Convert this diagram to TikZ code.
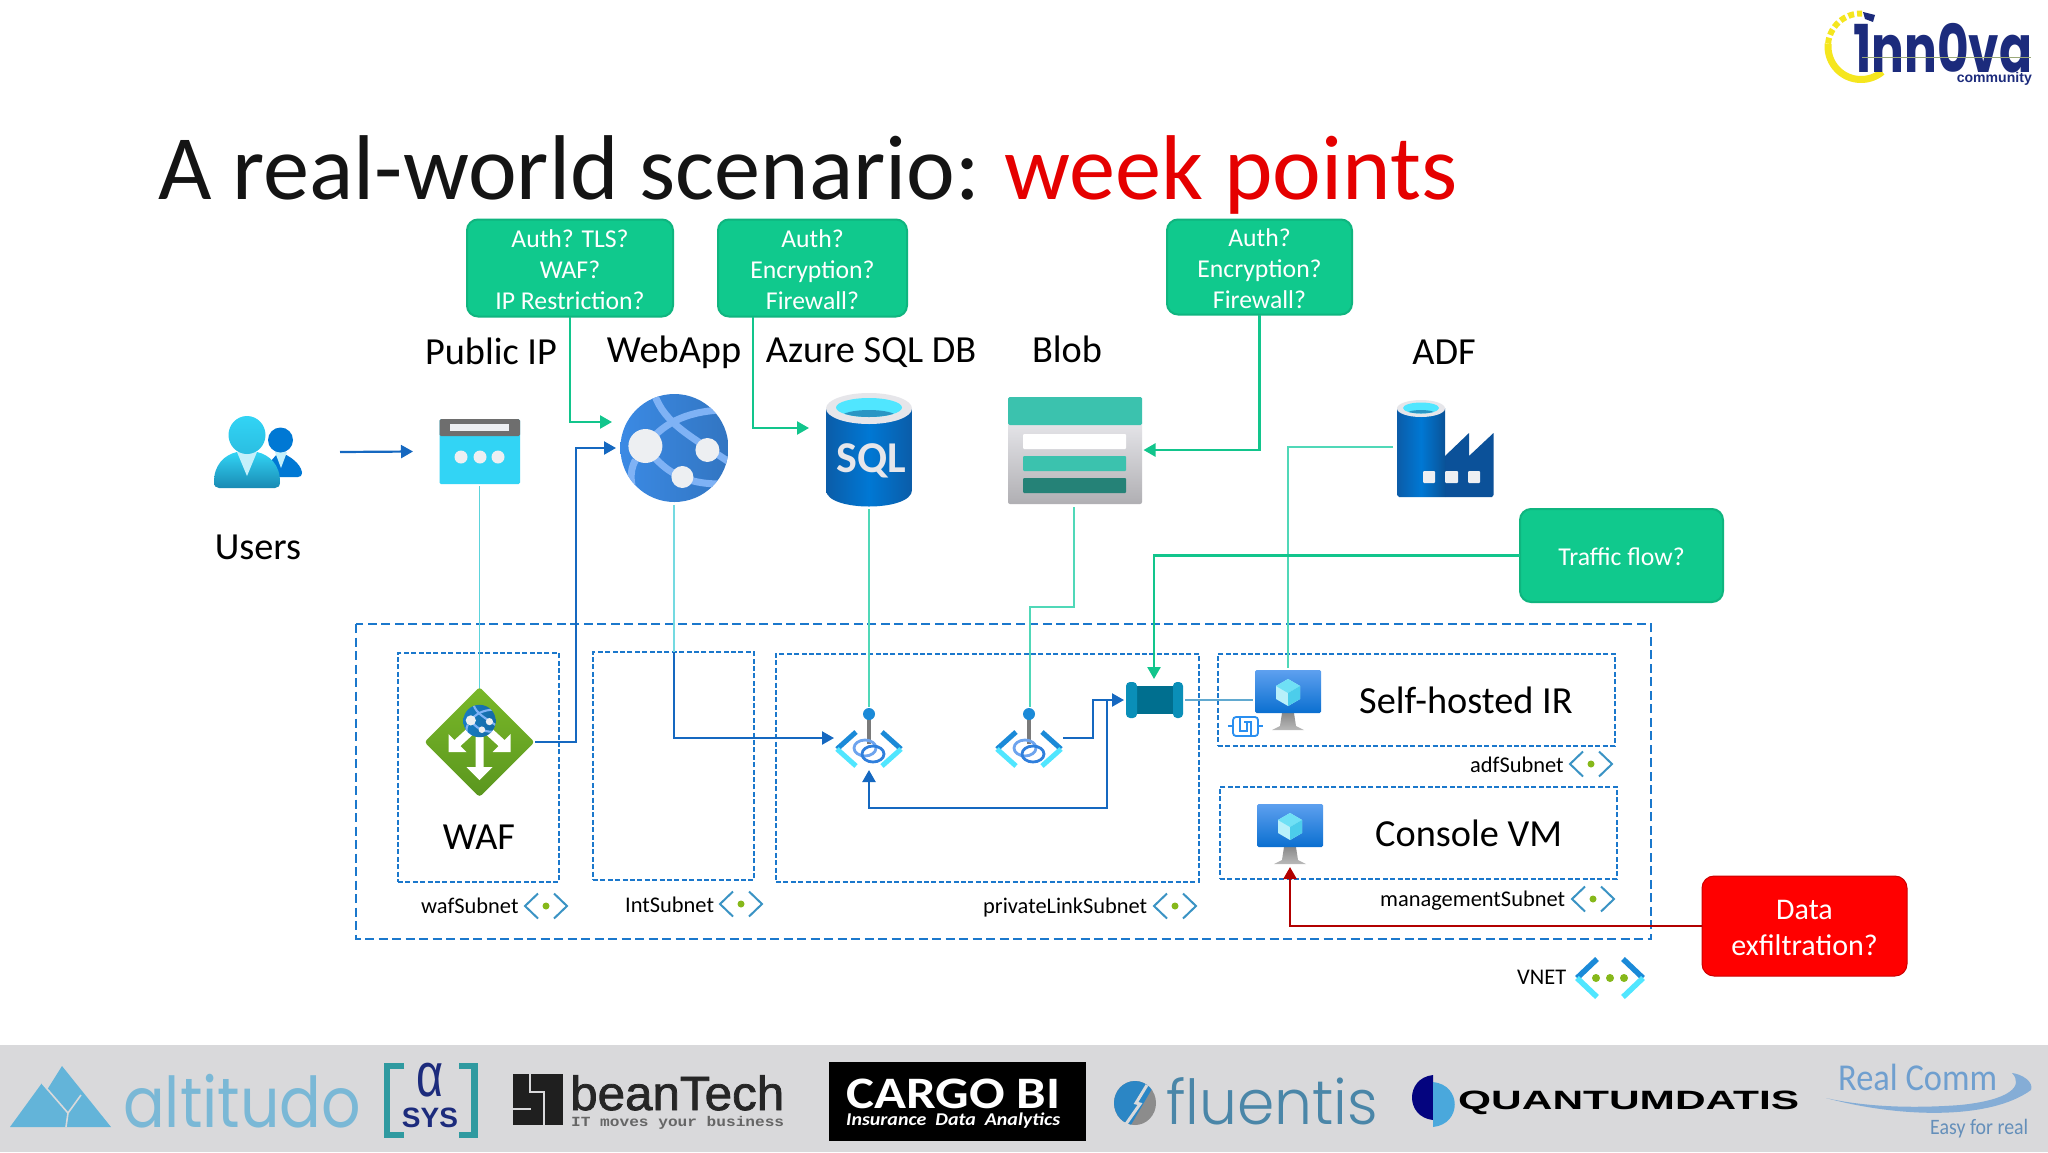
\documentclass[tikz,border=0pt]{standalone}
\usepackage{fontspec}
\usepackage{graphicx}
\setmainfont{Carlito}
\newfontfamily\libs{Liberation Sans}
\newfontfamily\libfake[FakeBold=1.6]{Liberation Sans}
\newfontfamily\pop{Poppins Light}
\newfontfamily\popr{Poppins}
\newfontfamily\mono{Liberation Mono}
\usetikzlibrary{arrows.meta,calc}
\definecolor{gbox}{HTML}{10C98D}
\definecolor{gedge}{HTML}{0FB57F}
\definecolor{gline}{HTML}{12C58C}
\definecolor{bline}{HTML}{1568C0}
\definecolor{dashc}{HTML}{1B78CC}
\definecolor{tealA}{HTML}{5CD4DC}
\definecolor{tealB}{HTML}{50D8B8}
\definecolor{navy}{HTML}{1C2B7C}
\definecolor{subc}{HTML}{3A93C4}
\definecolor{dotg}{HTML}{86B81A}
\definecolor{globeband}{HTML}{7FB2F5}
\definecolor{globew}{HTML}{EDEFF2}
\definecolor{globeb}{HTML}{3B8AE4}
\definecolor{peD}{HTML}{1B8AD8}
\definecolor{peL}{HTML}{50E6FF}
\definecolor{peG}{HTML}{7A7A7A}
\definecolor{peR}{HTML}{6EA4EE}
\definecolor{peS}{HTML}{2F7FDC}
\definecolor{vmS}{HTML}{8A8A8A}
\definecolor{vmT}{HTML}{5EA0EF}
\definecolor{vmB}{HTML}{0A6FD0}
\definecolor{cubeL}{HTML}{B8F0FA}
\definecolor{cubeT}{HTML}{6FE0F5}
\definecolor{cubeR}{HTML}{4CCDEB}
\definecolor{usersmall}{HTML}{0078D4}
\definecolor{usertie}{HTML}{C4F0FB}
\definecolor{userT}{HTML}{32D4F5}
\definecolor{userB}{HTML}{198AB3}
\definecolor{pipB}{HTML}{32D4F5}
\definecolor{pipG}{HTML}{6E6E6E}
\definecolor{sqlE}{HTML}{0B5CA8}
\definecolor{sqlM}{HTML}{0078D4}
\definecolor{ringc}{HTML}{E6E6EA}
\definecolor{water}{HTML}{2A96C4}
\definecolor{blobB}{HTML}{B0AFB3}
\definecolor{blobT}{HTML}{3BC2AE}
\definecolor{blobD}{HTML}{258277}
\definecolor{adfD}{HTML}{0B5199}
\definecolor{wafT}{HTML}{7AB829}
\definecolor{wafB}{HTML}{5A961E}
\definecolor{hubM}{HTML}{006F8F}
\definecolor{hubC}{HTML}{0A8FB8}
\definecolor{footg}{HTML}{D9D9DB}
\definecolor{altb}{HTML}{63B4D9}
\definecolor{altt}{HTML}{7AB8D6}
\definecolor{asysT}{HTML}{2F9AA0}
\definecolor{fluG}{HTML}{8C8C8C}
\definecolor{fluB}{HTML}{2B86C5}
\definecolor{fluT}{HTML}{4A86A8}
\definecolor{qnavy}{HTML}{04047F}
\definecolor{qblue}{HTML}{4AA8DC}
\definecolor{realc}{HTML}{6F9FCF}
\definecolor{logoY}{HTML}{F5E61E}
\definecolor{logoS}{HTML}{9AA878}
\definecolor{irc}{HTML}{2A8FF0}
\newcommand{\fitto}[2]{\resizebox{#1pt}{\height}{#2}}
\newcommand{\fs}[2]{\fontsize{#1}{#2}\selectfont}
\newcommand{\dn}[1]{\rule{0pt}{#1pt}}
\tikzset{
  iconbox/.style n args={2}{minimum width=#1pt,minimum height=#2pt,inner sep=0pt,outer sep=0pt},
  greenbox/.style={draw=gedge,fill=gbox,line width=2pt,rounded corners=11pt,text=white,align=center,inner sep=0pt,font=\fs{25.7}{31}},
  redbox/.style={draw=red!80!black,fill=red,line width=1pt,rounded corners=12pt,text=white,align=center,inner sep=0pt,font=\fs{30}{36}},
  lab/.style={font=\fs{38.3}{40},text=black,inner sep=0pt},
  small/.style={font=\fs{22.4}{24},text=black,inner sep=0pt},
  vnetbox/.style={draw=dashc,line width=2.2pt,dash pattern=on 9pt off 4.5pt},
  subbox/.style={draw=dashc,line width=2pt,dash pattern=on 5pt off 2.4pt},
  gconn/.style={draw=gline,line width=2.4pt},
  bconn/.style={draw=bline,line width=2.2pt},
  tipG/.style={-{Triangle[length=12pt,width=13pt]}},
  thin1/.style={line width=1.5pt},
}
\newcommand{\subnet}[2]{%
 \begin{scope}[shift={(#1,#2)}]
  \draw[subc,line width=2pt] (-8,-12.5)--(-21,0)--(-8,12.5) (8,-12.5)--(21,0)--(8,12.5);
  \fill[dotg] (0,0) circle[radius=3.5pt];
 \end{scope}}
\newcommand{\globe}[4]{%
 \begin{scope}[shift={(#1,#2)},scale=#3]
  \begin{scope}
   \clip (0,0) circle[radius=54pt];
   \shade[left color=#4,right color=#4!85!black] (-54,-54) rectangle (54,54);
   \draw[globeband,line width=#3*7pt] (-20,-54) .. controls (-10,-24) and (18,-11) .. (56,15);
   \draw[globeband,line width=#3*7pt] (-29,-2) .. controls (-12,-24) and (10,-36) .. (46,-38);
   \draw[globeband,line width=#3*7pt] (-39,12) .. controls (-46,25) and (-44,40) .. (-36,54);
   \draw[globeband,line width=#3*7pt] (-29,-2) .. controls (-12,22) and (8,36) .. (46,36);
  \end{scope}
  \fill[globew] (-29,-2) circle[radius=17pt] (33,2) circle[radius=12pt] (8,29) circle[radius=11pt];
 \end{scope}}
\newcommand{\pe}[2]{%
 \begin{scope}[shift={(#1,#2)}]
  \draw[peD,line width=5pt] (-13,-18)--(-32,-1) (13,-18)--(32,-1);
  \draw[peL,line width=5pt] (-32,-1)--(-13,16) (32,-1)--(13,16);
  \draw[peG,line width=4.5pt] (0,-36)--(0,-6);
  \fill[peD] (0,-36) circle[radius=6pt];
  \draw[peR,line width=2.8pt] (-4,-2) ellipse[x radius=11pt,y radius=8pt];
  \draw[peS,line width=2.8pt] (4,4) ellipse[x radius=11pt,y radius=8pt];
 \end{scope}}
\newcommand{\vmicon}[2]{%
 \begin{scope}[shift={(#1,#2)}]
  \shade[top color=vmS,bottom color=white!45!gray] (-6,0) -- (6,0) -- (8,13) -- (16,17) -- (-16,17) -- (-8,13) -- cycle;
  \shade[top color=vmT,bottom color=vmB,rounded corners=1.5pt] (-33,-43) rectangle (33,0);
  \begin{scope}[shift={(0,-21)}]
   \fill[cubeL] (0,-13)--(12,-6)--(12,7)--(0,14)--(-12,7)--(-12,-6)--cycle;
   \fill[cubeT] (0,-13)--(12,-6)--(0,1)--(-12,-6)--cycle;
   \fill[cubeR] (0,1)--(12,-6)--(12,7)--(0,14)--cycle;
  \end{scope}
 \end{scope}}
\begin{document}
\begin{tikzpicture}[x=1pt,y=-1pt]
\useasboundingbox (0,0) rectangle (2048,1152);
\fill[white] (0,0) rectangle (2048,1152);
% title
\node[anchor=base west,inner sep=0pt,font=\fs{92}{100},text=black!92] (title) at (158,199) {\fitto{822}{A real-world scenario:}\hspace{24pt}\textcolor{red!90!black}{\fitto{453}{week points}}};
% --- icon placeholders
\node[iconbox={88}{72}] (users) at (258,452) {};
\node[iconbox={81}{65}] (pip) at (479.5,451.5) {};
\node[iconbox={108}{108}] (web) at (674,448) {};
\node[iconbox={86}{114}] (sql) at (869,450) {};
\node[iconbox={134}{107}] (blob) at (1075,450.5) {};
\node[iconbox={97}{97}] (adf) at (1445,448.5) {};
\node[iconbox={107}{106}] (waf) at (479.5,742) {};
\node[iconbox={57}{36}] (hub) at (1154.5,700) {};
\node[iconbox={66}{61}] (vm1) at (1288,700.5) {};
\node[iconbox={66}{62}] (vm2) at (1290,834) {};
\node[iconbox={62}{36}] (pe1) at (869,750) {};
\node[iconbox={62}{36}] (pe2) at (1029,750) {};
% dashed frames
\draw[vnetbox] (356,624) rectangle (1651,939);
\node[subbox,iconbox={161}{229}] (sub1) at (478.5,767.5) {};
\node[subbox,iconbox={161}{228}] (sub2) at (673.5,766) {};
\node[subbox,iconbox={423}{228}] (sub3) at (987.5,768) {};
\node[subbox,iconbox={397}{92}] (sub4) at (1416.5,700) {};
\node[subbox,iconbox={397}{92}] (sub5) at (1418.5,833) {};
% thin connectors
\coordinate (webturn) at (674,652);
\draw[draw=tealA,thin1] (pip.south) ++(0,2) -- (waf.north);
\draw[draw=tealA!85!white,line width=1.6pt] (web.south) ++(0,3) -- (webturn);
\coordinate (pe1top) at (869,707);
\coordinate (pe2top) at (1030,707);
\draw[draw=tealB,line width=1.4pt] (sql.south) ++(0,2) -- (pe1top);
\draw[draw=tealB,line width=1.4pt] (1074,507) -- (1074,607) -- (1030,607) -- (pe2top);
\coordinate (adfout) at (1393,447);
\coordinate (vm1top) at (1288,668);
\draw[draw=tealB,line width=1.4pt] (adfout) -| (vm1top);
\coordinate (hubout) at (1185,700);
\coordinate (vm1in) at (1253,700);
\draw[draw=subc!80!white,line width=1.2pt] (hubout) -- (vm1in);
% blue connectors
\coordinate (webin) at (616,448);
\coordinate (wafout) at (535,742);
\draw[bconn,tipG] (users.east) ++(38,0) -- (413,451.5);
\draw[bconn,tipG] (wafout) -| (576,448) -- (webin);
\coordinate (pe1in) at (834,738);
\draw[bconn,tipG] (webturn) |- (pe1in);
\coordinate (pe2out) at (1063,738);
\coordinate (hubin) at (1124,700);
\draw[bconn,tipG] (pe2out) -- (1093,738) -- (1093,700) -- (hubin);
\coordinate (pe1under) at (869,770);
\draw[bconn,tipG] (1107,700) -- (1107,808) -- (869,808) -- (pe1under);
% green boxes
\node[greenbox,iconbox={206}{97}] (box1) at (570,268) {\dn{22}Auth? TLS?\\WAF?\\IP Restriction?};
\node[greenbox,iconbox={189}{97}] (box2) at (812.5,268) {\dn{22}Auth?\\Encryption?\\Firewall?};
\node[greenbox,iconbox={185}{95}] (box3) at (1259.5,267) {\dn{22}Auth?\\Encryption?\\Firewall?};
\node[greenbox,iconbox={203}{93}] (traffic) at (1621.5,555.5) {\dn{20}Traffic flow?};
\node[redbox,iconbox={205}{100}] (data) at (1804.5,926) {\dn{23.5}Data\\exfiltration?};
\coordinate (webg) at (612,422);
\coordinate (sqlg) at (809,428);
\coordinate (blobg) at (1143.5,450);
\coordinate (hubg) at (1154,679);
\draw[gconn,tipG] (box1.south) |- (webg);
\draw[gconn,tipG] ([xshift=-59.5pt]box2.south) |- (sqlg);
\draw[gconn,tipG] (box3.south) |- (blobg);
\draw[gconn,tipG] (traffic.west) -| (hubg);
\coordinate (vm2in) at (1290,867);
\draw[draw=red!70!black,line width=2.4pt,-{Triangle[length=12pt,width=13pt]}] (data.west) -| (vm2in);
% labels
\node[lab] (lblpip) at (491,351) {Public IP};
\node[lab] (lblweb) at (674,352) {WebApp};
\node[lab] (lblsql) at (871,353) {Azure SQL DB};
\node[lab] (lblblob) at (1067,349) {Blob};
\node[lab] (lbladf) at (1444,352) {ADF};
\node[lab] (lblusers) at (258,547) {Users};
\node[lab] (lblwaf) at (479,837) {WAF};
\node[lab,anchor=west] (lblshir) at (1359,700) {Self-hosted IR};
\node[lab,anchor=west] (lblcon) at (1375,833) {Console VM};
\node[small,anchor=west] (s1) at (421,906) {wafSubnet};
\node[small,anchor=west] (s2) at (625,905) {IntSubnet};
\node[small,anchor=west] (s3) at (983,908) {privateLinkSubnet};
\node[small,anchor=west] (s4) at (1470,765) {adfSubnet};
\node[small,anchor=west] (s5) at (1380,901) {managementSubnet};
\node[small,anchor=west] (s6) at (1517,977) {VNET};
\subnet{546}{906}\subnet{741}{904}\subnet{1175}{906}\subnet{1591}{764}\subnet{1593}{899}
% VNET icon
\begin{scope}[shift={(1610,978)}]
 \draw[peD,line width=5.5pt] (-13,-19)--(-33,0) (13,-19)--(33,0);
 \draw[peL,line width=5.5pt] (-33,0)--(-13,19) (33,0)--(13,19);
 \fill[dotg] (-14,0) circle[radius=4pt] (0,0) circle[radius=4pt] (14,0) circle[radius=4pt];
\end{scope}
% Users icon
\fill[usersmall] (267,469) .. controls (270,462) and (274,456) .. (280,452) .. controls (290,456) and (300,463) .. (302,472) .. controls (302,476) and (300,477) .. (298,477) -- (268,477) -- cycle;
\fill[usertie] (275,452) -- (287,452) -- (281,468) -- cycle;
\fill[usersmall] (280.5,440) ellipse[x radius=12.5pt,y radius=12.5pt];
\shade[top color=userT,bottom color=userB] (214,482) .. controls (214,465) and (224,455) .. (237,452) -- (257,452) .. controls (270,455) and (280,465) .. (280,482) .. controls (280,486) and (278,488) .. (275,488) -- (219,488) .. controls (216,488) and (214,486) .. (214,482) -- cycle;
\fill[usertie] (237,452) -- (257,452) -- (247,476) -- cycle;
\shade[top color=userT,bottom color=userT!70!userB] (247,435) ellipse[x radius=18.5pt,y radius=19pt];
% Public IP icon
\fill[pipB,rounded corners=1.5pt] (439.5,419) rectangle (520,484);
\fill[pipG,rounded corners=1.5pt] (439.5,419) -- (520,419) -- (520,436) -- (439.5,436) -- cycle;
\fill[globew] (450,424) rectangle (509,431);
\fill[globew] (461,457) circle[radius=6.5pt] (480,457) circle[radius=6.5pt] (498,457) circle[radius=6.5pt];
% WebApp
\globe{674.4}{448}{1}{globeb}
% SQL
\shade[left color=sqlE,right color=sqlE,middle color=sqlM] (826,409) -- (826,490) .. controls (826,512) and (912,512) .. (912,490) -- (912,409) -- cycle;
\fill[ringc] (869,408.5) ellipse[x radius=43pt,y radius=15.5pt];
\fill[peL] (869,407.5) ellipse[x radius=33pt,y radius=9.5pt];
\begin{scope}
 \clip (869,407.5) ellipse[x radius=33pt,y radius=9.5pt];
 \fill[water] (869,417) ellipse[x radius=28pt,y radius=7pt];
\end{scope}
\node[inner sep=0pt,text=ringc,font=\fs{44}{44}\bfseries] (sqltxt) at (871,461) {SQL};
% Blob
\shade[top color=ringc,bottom color=blobB,rounded corners=2pt] (1008,420) rectangle (1142,504);
\fill[blobT,rounded corners=1.5pt] (1008,397) -- (1142,397) -- (1142,425) -- (1008,425) -- cycle;
\fill[white,rounded corners=1pt] (1023,434) rectangle (1126,449);
\fill[blobT,rounded corners=1pt] (1023,456) rectangle (1126,471);
\fill[blobD,rounded corners=1pt] (1023,478) rectangle (1126,493);
% ADF
\fill[adfD] (1445,456) -- (1469,433) -- (1469,456) -- (1493.5,433) -- (1493.5,495) -- (1492,497) -- (1445,497) -- cycle;
\shade[left color=sqlE,right color=sqlE!90!black,middle color=sqlM] (1397,408) -- (1397,495) -- (1399,497) -- (1445,497) -- (1445,408) -- cycle;
\fill[ringc] (1421,408.5) ellipse[x radius=24pt,y radius=8.5pt];
\fill[peL] (1421,408) ellipse[x radius=18pt,y radius=5.5pt];
\begin{scope}
 \clip (1421,408) ellipse[x radius=18pt,y radius=5.5pt];
 \fill[water] (1421,414) ellipse[x radius=15pt,y radius=4pt];
\end{scope}
\fill[globew,rounded corners=1pt] (1423,471) rectangle (1435,483) (1445,471) rectangle (1458,483) (1468,471) rectangle (1480,483);
% WAF
\shade[top color=wafT,bottom color=wafB,rounded corners=3pt] (479.5,687) -- (534.5,742) -- (479.5,797) -- (424.5,742) -- cycle;
\begin{scope}[shift={(479.5,742)}]
 \fill[white] (-4,-5)--(-4,25)--(-13,25)--(0,38)--(13,25)--(4,25)--(4,-5)--cycle;
 \fill[white] (-31,-8)--(-31,10)--(-13,10)--(-19,4)--(-7,-7)--(-13,-13)--(-25,-2)--cycle;
 \fill[white] (31,-8)--(31,10)--(13,10)--(19,4)--(7,-7)--(13,-13)--(25,-2)--cycle;
\end{scope}
\globe{479.5}{721}{0.3}{peD!90!black}
% Hub
\fill[hubM] (1132,686) rectangle (1178,714);
\fill[hubC,rounded corners=4pt] (1126,682) rectangle (1137,718);
\fill[hubC,rounded corners=4pt] (1173,682) rectangle (1183,718);
% private endpoints
\pe{869}{750}\pe{1029}{750}
% VMs
\vmicon{1288}{713}\vmicon{1290}{847}
% small IR icon
\begin{scope}[line width=1.8pt]
 \draw[irc] (1228,726) -- (1233,726) (1258,726) -- (1263,726);
 \draw[irc,rounded corners=3pt] (1233,717) rectangle (1258,736);
 \draw[irc] (1240,717) -- (1240,731) -- (1247,731) -- (1247,723);
 \draw[irc] (1251,736) -- (1251,722) -- (1244,722);
\end{scope}
% footer
\fill[footg] (0,1045) rectangle (2048,1152);
% altitudo
\fill[altb] (10,1127) -- (42,1083) -- (47,1090) -- (62,1066) -- (111,1127) -- cycle;
\draw[footg,line width=1.6pt] (42,1083) -- (68,1113) -- (66,1127) (81,1095) -- (68,1113);
\node[anchor=base west,inner sep=0pt,text=altt,font=\popr\fs{70}{70}] (altitudo) at (123,1127) {\fitto{238}{altitudo}};
% asys
\draw[asysT,line width=6.5pt] (404,1066) -- (387,1066) -- (387,1135) -- (404,1135);
\draw[asysT,line width=6.5pt] (459,1066) -- (474.5,1066) -- (474.5,1135) -- (459,1135);
\node[inner sep=0pt,text=navy,font=\libs\fs{62}{62}] (alpha) at (430,1080) {\fitto{27}{α}};
\node[inner sep=0pt,text=navy,font=\libs\bfseries\fs{28}{28}] (sys) at (430,1118) {SYS};
% beantech
\fill[black!88] (513,1074) rectangle (563,1125);
\draw[footg,line width=2.5pt] (530,1074) -- (530,1092) -- (544,1092) -- (544,1125) (513,1109) -- (531,1109);
\node[anchor=base west,inner sep=0pt,text=black!85,font=\libfake\fs{48}{48}] (bean) at (570,1110) {\fitto{214}{beanTech}};
\node[anchor=base west,inner sep=0pt,text=black!60,font=\mono\bfseries\fs{14}{14}] (beantag) at (571,1126) {\fitto{213}{IT moves your business}};
% cargo
\node[fill=black,minimum width=257pt,minimum height=79pt,inner sep=0pt,outer sep=0pt] (cargobox) at (957.5,1101.5) {};
\node[inner sep=0pt,anchor=base west,text=white,font=\bfseries\fs{45}{45}] (cargo) at (846,1108) {\fitto{214}{CARGO BI}};
\node[inner sep=0pt,anchor=base west,text=white,font=\bfseries\itshape\fs{18}{18}] (cargotag) at (846,1125) {\fitto{214}{Insurance\ \ Data\ \ Analytics}};
% fluentis
\fill[fluG] (1135,1103) ellipse[x radius=21pt,y radius=22pt];
\begin{scope}
 \clip (1105,1075) -- (1160,1075) -- (1128,1130) -- (1105,1130) -- cycle;
 \fill[fluB] (1135,1103) ellipse[x radius=21pt,y radius=22pt];
\end{scope}
\draw[footg,line width=3pt] (1147,1085) -- (1136,1103) -- (1140,1104) -- (1126,1124);
\node[anchor=base west,inner sep=0pt,text=fluT,font=\pop\fs{62}{62}] (fluentis) at (1166,1124) {\fitto{212}{fluentis}};
% quantum
\fill[qnavy] (1433,1075) .. controls (1405,1078) and (1405,1117) .. (1433,1120) -- cycle;
\fill[qblue] (1433,1082) .. controls (1462,1085) and (1462,1124) .. (1433,1127) -- cycle;
\node[anchor=base west,inner sep=0pt,text=black,font=\libs\bfseries\fs{26.5}{27}] (quant) at (1458,1109) {\fitto{341}{QUANTUMDATIS}};
% real comm
\node[anchor=base west,inner sep=0pt,text=realc,font=\fs{38}{38}] (real) at (1838,1090) {\fitto{159}{Real Comm}};
\fill[realc!85!white] (1826,1098) .. controls (1900,1118) and (1990,1120) .. (2031,1090) .. controls (2034,1082) and (2022,1074) .. (2012,1073) .. controls (2024,1086) and (2010,1100) .. (1960,1105) .. controls (1920,1108) and (1870,1108) .. (1826,1098) -- cycle;
\node[anchor=base west,inner sep=0pt,text=realc!90!black,font=\fs{22}{22}] (easy) at (1930,1134) {\fitto{98}{Easy for real}};
% logo
\draw[logoY,line width=7pt] plot[domain=50:185,samples=40] ({1861+33*cos(\x)},{46.5+33*sin(\x)});
\draw[logoY,line width=6pt,dash pattern=on 6pt off 3pt] plot[domain=185:272,samples=30] ({1861+33*cos(\x)},{46.5+33*sin(\x)});
\node[anchor=base west,inner sep=0pt,text=navy,font=\popr\bfseries\fs{66}{66}] (logo) at (1853,72) {\fitto{179}{1nn0va}};
\fill[navy] (1863,12) -- (1875,15) -- (1873,22) -- (1865,19) -- cycle;
\draw[logoS,line width=1.2pt] (1862,57.5) -- (2031,57.5);
\node[anchor=base east,inner sep=0pt,text=navy,font=\libs\bfseries\fs{14}{14}] (comm) at (2032,82) {\fitto{75}{community}};
\end{tikzpicture}
\end{document}
